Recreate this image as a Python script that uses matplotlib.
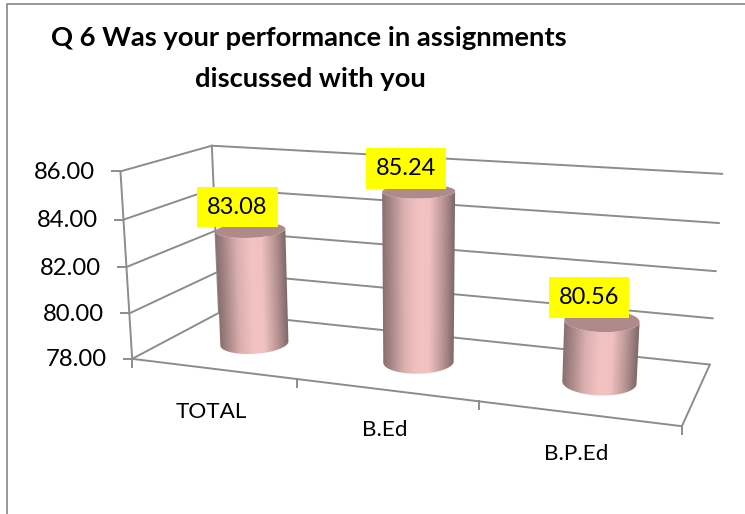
import numpy as np
import matplotlib
matplotlib.use('Agg')
import matplotlib.pyplot as plt
from matplotlib.colors import LinearSegmentedColormap
from matplotlib.patches import Polygon

categories = ['TOTAL', 'B.Ed', 'B.P.Ed']
values = [83.08, 85.24, 80.56]
y_ticks = [78, 80, 82, 84, 86]

# where the box of the 3D chart sits on the page: (category, depth, value) -> pixel
anchors = [
    (0, 0, 78, 133, 358), (1, 0, 78, 297, 378.5), (2, 0, 78, 479, 401.5), (3, 0, 78, 682, 427),
    (0, 1, 78, 218, 314), (3, 1, 78, 710, 364),
    (0, 0, 80, 129.5, 313), (0, 0, 82, 126, 267), (0, 0, 84, 123, 220), (0, 0, 86, 120, 172),
    (0, 1, 86, 213, 145), (3, 1, 86, 722, 174),
    (3, 1, 82, 716, 271),
]

rows = []
rhs = []
for a, d, v, px, py in anchors:
    rows.append([a, d, v, 1, 0, 0, 0, 0, -px * a, -px * d, -px * v])
    rows.append([0, 0, 0, 0, a, d, v, 1, -py * a, -py * d, -py * v])
    rhs += [px, py]
coef = np.linalg.lstsq(np.array(rows, dtype=float), np.array(rhs, dtype=float), rcond=None)[0]


def project(a, d, v):
    a, d, v = np.asarray(a, float), np.asarray(d, float), np.asarray(v, float)
    w = coef[8] * a + coef[9] * d + coef[10] * v + 1
    x = (coef[0] * a + coef[1] * d + coef[2] * v + coef[3]) / w
    y = (coef[4] * a + coef[5] * d + coef[6] * v + coef[7]) / w
    return x, y


def seg(ax, p, q):
    x0, y0 = project(*p)
    x1, y1 = project(*q)
    ax.plot([x0, x1], [y0, y1], color='#8c8c8c', lw=1.4, solid_capstyle='round')


def front_arc(x, y):
    # points of the closed ring from its left extreme to its right one, along the viewer side
    il, ir = np.argmin(x[:-1]), np.argmax(x[:-1])
    idx = np.arange(il, ir + 1 if ir > il else ir + len(x)) % (len(x) - 1)
    return x[idx], y[idx]


fig = plt.figure(figsize=(7.45, 5.14), dpi=100)
ax = fig.add_axes([0, 0, 1, 1])

# chart frame
ax.plot([6.5, 6.5, 745], [514, 3.5, 3.5], color='#868686', lw=1.2)

plt.rcParams['font.family'] = 'Lato'

ax.text(309, 38, 'Q 6 Was your performance in assignments', ha='center', va='center',
        fontsize=19.7, fontweight='bold', color='black')
ax.text(310, 79, 'discussed with you', ha='center', va='center',
        fontsize=19.7, fontweight='bold', color='black')

# walls and floor
n = len(categories)
for v in y_ticks:
    seg(ax, (0, 0, v), (0, 1, v))
    seg(ax, (0, 1, v), (n, 1, v))
    x, y = project(0, 0, v)
    ax.plot([x - 8, x], [y, y], color='#8c8c8c', lw=1.4)
    ax.text(x - 25, y + 1, '%.2f' % v, ha='right', va='center', fontsize=17.2, color='black')
seg(ax, (0, 0, 78), (0, 0, 86))
seg(ax, (0, 1, 78), (0, 1, 86))
seg(ax, (0, 0, 78), (n, 0, 78))
seg(ax, (n, 0, 78), (n, 1, 78))
for i in range(n + 1):
    x, y = project(i, 0, 78)
    ax.plot([x, x], [y, y + 8], color='#8c8c8c', lw=1.4)

label_dx = [-1, -1, -1]
label_dy = [43, 40, 41]
for i, c in enumerate(categories):
    x, y = project(i + 0.5, 0, 78)
    ax.text(x + label_dx[i], y + label_dy[i], c, ha='center', va='center', fontsize=16.2, color='black')

# cylinders, side gradient clipped to the outline
shade = LinearSegmentedColormap.from_list('side', [
    (0, '#8b6e6e'), (0.08, '#9d7f7f'), (0.3, '#dcb0b0'), (0.5, '#f3c3c3'),
    (0.65, '#f1c1c1'), (0.85, '#b89393'), (1, '#806868')])
radius_a = 0.19
radius_d = 0.21
t = np.linspace(np.pi, 3 * np.pi, 361)
for i, val in enumerate(values):
    ca = i + 0.5 + radius_a * np.cos(t)
    cd = 0.5 + radius_d * np.sin(t)
    bx, by = project(ca, cd, 78)
    tx, ty = project(ca, cd, val)

    ax_b, ay_b = front_arc(bx, by)
    ax_t, ay_t = front_arc(tx, ty)
    outline = np.column_stack([np.r_[ax_b, ax_t[::-1]], np.r_[ay_b, ay_t[::-1]]])

    x0, x1 = int(outline[:, 0].min()) - 2, int(outline[:, 0].max()) + 3
    y0, y1 = int(outline[:, 1].min()) - 2, int(outline[:, 1].max()) + 3
    gx, gy = np.meshgrid(np.arange(x0, x1) + 0.5, np.arange(y0, y1) + 0.5)
    s = np.clip((gy - ay_t[0]) / (ay_b[0] - ay_t[0]), 0, 1)
    left = ax_t[0] + s * (ax_b[0] - ax_t[0])
    right = ax_t[-1] + s * (ax_b[-1] - ax_t[-1])
    im = ax.imshow((gx - left) / (right - left), cmap=shade, vmin=0, vmax=1,
                   extent=(x0, x1, y1, y0), aspect='auto', zorder=3, interpolation='bilinear')
    im.set_clip_path(Polygon(outline, transform=ax.transData))
    ax.fill(tx, ty, color='#ae8a8a', zorder=4, lw=0)

    px, py = project(i + 0.5, 0.5, val)
    ax.text(px - 13, py - 23, '%.2f' % val, ha='center', va='center', fontsize=17, color='black',
            zorder=5, bbox=dict(boxstyle='square,pad=0.42', fc='#ffff00', ec='none'))

ax.set_xlim(0, 745)
ax.set_ylim(514, 0)
ax.axis('off')

plt.savefig('out.png', dpi=100)
